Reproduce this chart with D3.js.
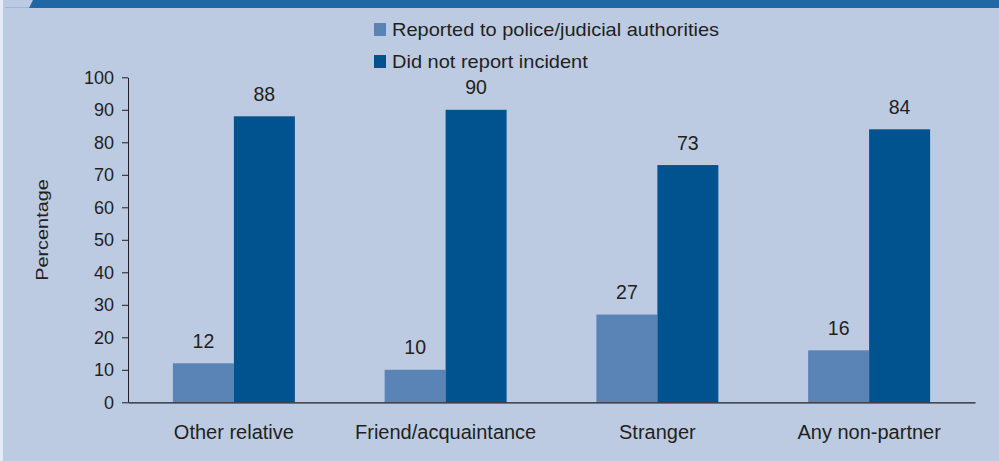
<!DOCTYPE html>
<html><head><meta charset="utf-8">
<script src="https://cdn.jsdelivr.net/npm/d3@7"></script>
<style>body{margin:0;padding:0;background:#bccbe2;}svg{display:block;}</style>
</head><body>
<script>
const categories = ["Other relative", "Friend/acquaintance", "Stranger", "Any non-partner"];
const seriesNames = ["Reported to police/judicial authorities", "Did not report incident"];
const reported = [12, 10, 27, 16];
const notReported = [88, 90, 73, 84];
const yTicks = [0, 10, 20, 30, 40, 50, 60, 70, 80, 90, 100];
const colors = ["#5a84b6", "#00538f"];

(function () {
const W = 999, H = 461;
const svg = d3.select("body").append("svg").attr("width", W).attr("height", H);
svg.append("rect").attr("width", W).attr("height", H).attr("fill", "#bccbe2");
svg.append("rect").attr("x", 0).attr("y", 0).attr("width", 3).attr("height", H).attr("fill", "#e6ecf5");
// top band
svg.append("polygon").attr("points", "33,0 999,0 999,8 29,8").attr("fill", "#1f68a3");
svg.append("line").attr("x1", 5).attr("x2", 29).attr("y1", 7.5).attr("y2", 7.5).attr("stroke", "#9fb6d6").attr("stroke-width", 1);

const pLeft = 128, pRight = 975, pTop = 77.3, pBottom = 402.3;
const x = d3.scaleBand().domain(categories).range([pLeft, pRight]).paddingInner(0.424).paddingOuter(0.212);
const xs = d3.scaleBand().domain([0, 1]).range([0, x.bandwidth()]);
const y = d3.scaleLinear().domain([0, 100]).range([pBottom, pTop]);

const font = "'Liberation Sans', Arial, sans-serif";
const ink = "#231f20";
const series = [reported, notReported];

function stretch(sel, s, origin) {
  sel.style("transform-box", "fill-box").style("transform-origin", origin || "center")
     .style("transform", `scaleX(${s})`);
}

categories.forEach((c, i) => {
  series.forEach((s, j) => {
    svg.append("rect")
      .attr("x", x(c) + xs(j)).attr("width", xs.bandwidth())
      .attr("y", y(s[i])).attr("height", y(0) - y(s[i]))
      .attr("fill", colors[j]);
    svg.append("text")
      .attr("x", x(c) + xs(j) + xs.bandwidth() / 2)
      .attr("y", y(s[i]) - 15.5)
      .attr("text-anchor", "middle")
      .attr("font-family", font).attr("font-size", 19.5).attr("fill", ink)
      .text(s[i]);
  });
});

// y axis
const yAxis = d3.axisLeft(y).tickValues(yTicks).tickSize(6).tickPadding(8).tickSizeOuter(0);
const gy = svg.append("g").attr("transform", `translate(${pLeft},0)`).call(yAxis);
gy.selectAll("text").attr("font-family", font).attr("font-size", 18).attr("fill", ink);
gy.selectAll("line,path").attr("stroke", ink).attr("stroke-width", 1);

// x axis
const xAxis = d3.axisBottom(x).tickSize(0).tickPadding(22.3).tickSizeOuter(0);
const gx = svg.append("g").attr("transform", `translate(0,${pBottom})`).call(xAxis);
gx.selectAll("text").attr("font-family", font).attr("font-size", 20).attr("fill", ink);
gx.select("path").attr("stroke", ink).attr("stroke-width", 1.2);

// y label
const yl = svg.append("g").attr("transform", "translate(48,230) rotate(-90)")
  .append("text")
  .attr("text-anchor", "middle")
  .attr("font-family", font).attr("font-size", 17).attr("fill", ink)
  .text("Percentage");
stretch(yl, 1.17);

// legend
const legY = [23, 55];
seriesNames.forEach((n, j) => {
  svg.append("rect").attr("x", 374).attr("y", legY[j]).attr("width", 12).attr("height", 13).attr("fill", colors[j]);
  const t = svg.append("text").attr("x", 392).attr("y", legY[j] + 13)
    .attr("font-family", font).attr("font-size", 17.5).attr("fill", ink)
    .text(n);
  stretch(t, 1.144, "left center");
});
})();
</script>
</body></html>
